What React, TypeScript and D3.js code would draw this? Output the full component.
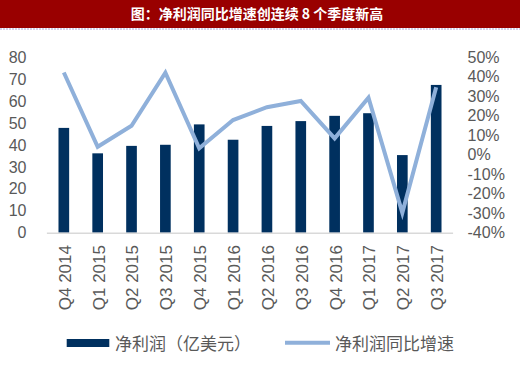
import React from "react";
import * as d3 from "d3";

const categories = ["Q4 2014","Q1 2015","Q2 2015","Q3 2015","Q4 2015","Q1 2016","Q2 2016","Q3 2016","Q4 2016","Q1 2017","Q2 2017","Q3 2017"];
const netProfit = [47.8, 36.2, 39.6, 40.1, 49.4, 42.4, 48.7, 50.9, 53.3, 54.5, 35.4, 67.4];
const growth = [42.2, 4.1, 14.9, 42.1, 3.3, 17.8, 24.4, 27.6, 8.4, 29.3, -29.8, 34.6];
const leftTicks = [0, 10, 20, 30, 40, 50, 60, 70, 80];
const rightTicks = [-40, -30, -20, -10, 0, 10, 20, 30, 40, 50];
const title = "图：净利润同比增速创连续 8 个季度新高";
const legendBar = "净利润（亿美元）";
const legendLine = "净利润同比增速";

const W = 520, H = 369;
const plotTop = 57.3, plotBottom = 232.7, plotLeft = 46.9, plotRight = 453.1;
const latin = "'Liberation Sans', Arial, sans-serif";
const cjk = "'Noto Sans CJK SC', 'Noto Sans', sans-serif";
const grey = "#595959";

export default function App() {
  const x = d3.scaleBand<string>().domain(categories).range([plotLeft, plotRight]).paddingInner(0.685).paddingOuter(0.3425);
  const yL = d3.scaleLinear().domain([0, 80]).range([plotBottom, plotTop]);
  const yR = d3.scaleLinear().domain([-40, 50]).range([plotBottom, plotTop]);
  const cx = (c: string) => (x(c) as number) + x.bandwidth() / 2;
  const line = d3.line<number>().x((_, i) => cx(categories[i])).y((d) => yR(d));

  return (
    <svg width={W} height={H} style={{ position: "absolute", left: 0, top: 0, display: "block" }}>
      <rect x={0} y={0} width={W} height={H} fill="#ffffff" />
      <rect x={0} y={0} width={W} height={28} fill="#990000" />
      <line x1={0} x2={W} y1={29} y2={29} stroke="#a9a6d8" strokeWidth={1} strokeDasharray="2,1" />
      <text x={257} y={18.5} textAnchor="middle" fill="#ffffff" fontFamily={cjk} fontWeight="bold" fontSize={14}>{title}</text>

      {leftTicks.map((t) => (
        <text key={"l" + t} x={26.5} y={yL(t)} dy="0.35em" textAnchor="end" fill={grey} fontFamily={latin} fontSize={16}>{t}</text>
      ))}
      {rightTicks.map((t) => (
        <text key={"r" + t} x={467.5} y={yR(t)} dy="0.35em" textAnchor="start" fill={grey} fontFamily={latin} fontSize={16}>{t + "%"}</text>
      ))}

      {categories.map((c, i) => (
        <rect key={c} x={x(c)} y={yL(netProfit[i])} width={x.bandwidth()} height={yL(0) - yL(netProfit[i])} fill="#00305f" />
      ))}
      <line x1={plotLeft} x2={plotRight} y1={plotBottom + 0.5} y2={plotBottom + 0.5} stroke="#d9d9d9" strokeWidth={1.5} />

      <path d={line(growth) || ""} fill="none" stroke="#8fb0da" strokeWidth={4} strokeLinejoin="miter" />

      {categories.map((c) => (
        <text key={"x" + c} transform={`translate(${cx(c) + 1},245) rotate(-90)`} dy="0.35em" textAnchor="end" fill={grey} fontFamily={latin} fontSize={17}>{c}</text>
      ))}

      <rect x={66.7} y={339} width={42.6} height={8} fill="#00305f" />
      <text x={115} y={349.5} fill={grey} fontFamily={cjk} fontSize={17}>{legendBar}</text>
      <line x1={285} x2={330} y1={342.7} y2={342.7} stroke="#8fb0da" strokeWidth={4} />
      <text x={335} y={349.5} fill={grey} fontFamily={cjk} fontSize={17}>{legendLine}</text>
    </svg>
  );
}
